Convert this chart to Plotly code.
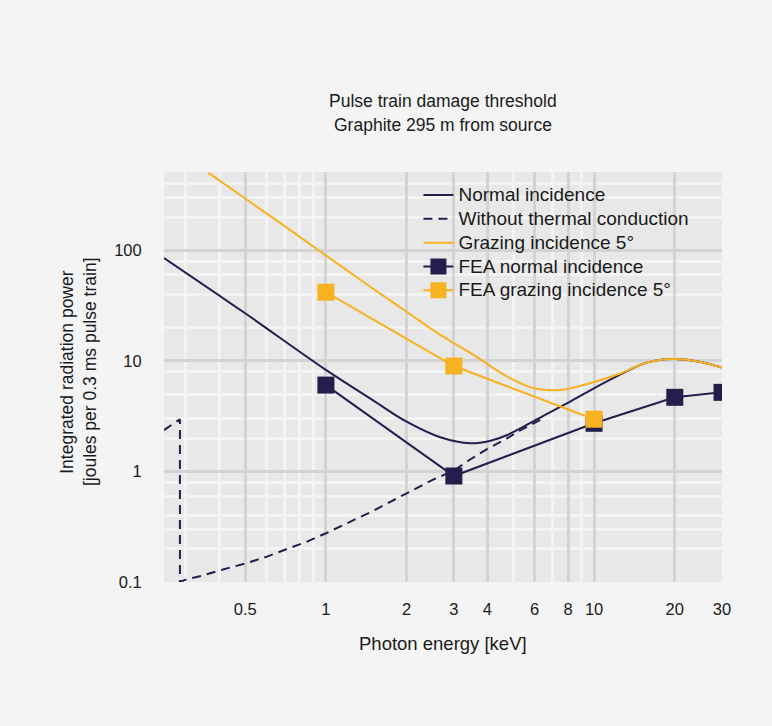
import plotly.graph_objects as go

# ---- data ----
normal_x = [0.249, 0.5, 1.0, 1.5, 2.0, 2.67, 3.46, 4.11, 4.75, 6.32, 7.73, 9.72, 12.6, 15, 17, 20, 25, 30]
normal_y = [85.5, 27.0, 8.3, 4.4, 2.82, 2.04, 1.80, 1.90, 2.14, 3.09, 4.0, 5.46, 7.6, 9.3, 10.1, 10.4, 9.8, 8.7]

nocond_x = [0.249, 0.2855, 0.2855, 0.3, 0.35, 0.4, 0.5, 0.6, 0.7, 0.85, 1.0, 1.25, 1.5, 2.0, 2.5, 3.0, 3.46, 4.0, 4.75, 5.3, 6.0, 6.32]
nocond_y = [2.37, 2.97, 0.1, 0.105, 0.115, 0.127, 0.147, 0.169, 0.195, 0.232, 0.276, 0.36, 0.44, 0.635, 0.84, 1.02, 1.29, 1.6, 2.0, 2.35, 2.75, 2.95]

grazing_x = [0.364, 0.5, 0.7, 1.0, 1.5, 2.0, 2.67, 3.56, 4.75, 5.97, 7.5, 9.45, 12.6, 15, 17, 20, 25, 30]
grazing_y = [506, 295, 167, 90, 45, 27.9, 17.2, 11.3, 7.2, 5.66, 5.47, 6.2, 7.74, 9.3, 10.1, 10.4, 9.8, 8.7]

fea_normal_x = [1, 3, 10, 20, 30]
fea_normal_y = [6.05, 0.91, 2.73, 4.69, 5.2]

fea_grazing_x = [1, 3, 10]
fea_grazing_y = [41.9, 9.0, 2.97]

series_names = ["Normal incidence", "Without thermal conduction", "Grazing incidence 5°",
                "FEA normal incidence", "FEA grazing incidence 5°"]

x_tickvals = [0.5, 1, 2, 3, 4, 6, 8, 10, 20, 30]
x_ticktext = ["0.5", "1", "2", "3", "4", "6", "8", "10", "20", "30"]
x_minor = [0.3, 0.4, 0.6, 0.7, 0.8, 0.9, 5, 7, 9]
y_tickvals = [0.1, 1, 10, 100]
y_ticktext = ["0.1", "1", "10", "100"]
y_minor = [0.2, 0.3, 0.4, 0.6, 0.8, 2, 3, 5, 8, 20, 40, 60, 80, 200, 300, 400]

NAVY = "#251d4b"
ORANGE = "#f6b220"
FONT = "Liberation Sans, Arial, sans-serif"
TEXT = "#1a1a1a"
PLOT_BG = "#e8e8e8"


def lg(name):
    return '<span style="font-size:19px">' + name + '</span>'


fig = go.Figure()
fig.add_trace(go.Scatter(x=normal_x, y=normal_y, mode="lines", name=lg(series_names[0]),
                         line=dict(color=NAVY, width=2, shape="spline", smoothing=1)))
fig.add_trace(go.Scatter(x=nocond_x, y=nocond_y, mode="lines", name=lg(series_names[1]),
                         line=dict(color=NAVY, width=2, dash="9px,6px")))
fig.add_trace(go.Scatter(x=grazing_x, y=grazing_y, mode="lines", name=lg(series_names[2]),
                         line=dict(color=ORANGE, width=2, shape="spline", smoothing=1)))
fig.add_trace(go.Scatter(x=fea_normal_x, y=fea_normal_y, mode="lines+markers", name=lg(series_names[3]),
                         line=dict(color=NAVY, width=2),
                         marker=dict(symbol="square", size=17, color=NAVY)))
fig.add_trace(go.Scatter(x=fea_grazing_x, y=fea_grazing_y, mode="lines+markers", name=lg(series_names[4]),
                         line=dict(color=ORANGE, width=2),
                         marker=dict(symbol="square", size=17, color=ORANGE)))

fig.update_layout(
    width=772, height=726, autosize=False,
    margin=dict(l=164, r=50, t=172, b=144),
    paper_bgcolor="#f4f4f4", plot_bgcolor=PLOT_BG,
    font=dict(family=FONT, size=16.5, color=TEXT),
    showlegend=True,
    legend=dict(x=0.456, y=0.985, xanchor="left", yanchor="top",
                bgcolor="rgba(0,0,0,0)", font=dict(size=16, color=TEXT),
                tracegroupgap=0),
    shapes=[dict(type="rect", xref="paper", yref="paper", x0=0.4355, x1=1, y0=0.6244, y1=1,
                 fillcolor=PLOT_BG, line=dict(width=0), layer="between")],
    annotations=[
        dict(text="Pulse train damage threshold", xref="paper", yref="paper", x=0.5, y=1.173,
             xanchor="center", yanchor="middle", showarrow=False, font=dict(size=17.5, color=TEXT)),
        dict(text="Graphite 295 m from source", xref="paper", yref="paper", x=0.5, y=1.1146,
             xanchor="center", yanchor="middle", showarrow=False, font=dict(size=17.5, color=TEXT)),
        dict(text="Photon energy [keV]", xref="paper", yref="paper", x=0.5, y=-0.1488,
             xanchor="center", yanchor="middle", showarrow=False, font=dict(size=18.5, color=TEXT)),
        dict(text="Integrated radiation power", xref="paper", yref="paper", x=-0.1744, y=0.512,
             xanchor="center", yanchor="middle", textangle=-90, showarrow=False,
             font=dict(size=17.5, color=TEXT)),
        dict(text="[joules per 0.3 ms pulse train]", xref="paper", yref="paper", x=-0.1326, y=0.512,
             xanchor="center", yanchor="middle", textangle=-90, showarrow=False,
             font=dict(size=17.5, color=TEXT)),
    ],
)

fig.update_xaxes(type="log", range=[-0.6038, 1.4771],
                 tickmode="array", tickvals=x_tickvals, ticktext=x_ticktext,
                 showgrid=True, gridcolor="#d3d3d3", gridwidth=3,
                 ticks="outside", ticklen=12, tickcolor="rgba(0,0,0,0)",
                 showline=False, zeroline=False,
                 minor=dict(tickvals=x_minor, showgrid=True, gridcolor="#f3f3f3", gridwidth=2.5, ticks=""))
fig.update_yaxes(type="log", range=[-1, 2.71],
                 tickmode="array", tickvals=y_tickvals, ticktext=y_ticktext,
                 showgrid=True, gridcolor="#d3d3d3", gridwidth=3,
                 ticks="outside", ticklen=18, tickcolor="rgba(0,0,0,0)",
                 showline=False, zeroline=False,
                 minor=dict(tickvals=y_minor, showgrid=True, gridcolor="#f3f3f3", gridwidth=2.5, ticks=""))

fig.write_html("out.html")
